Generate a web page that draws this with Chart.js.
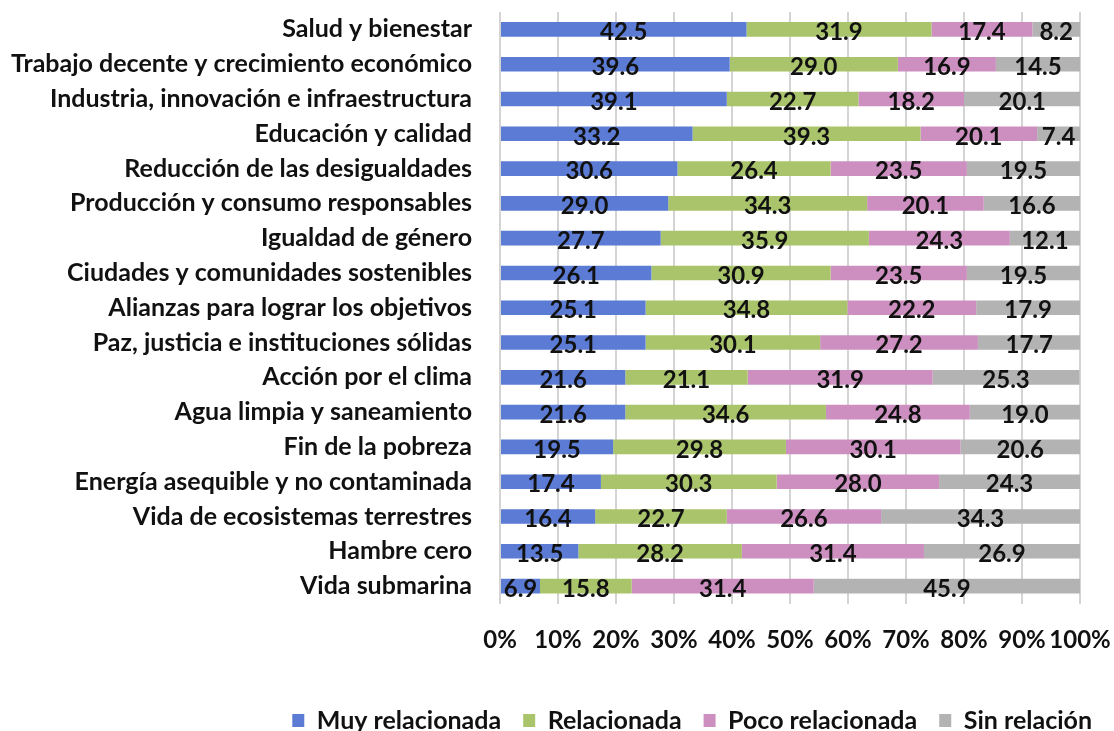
<!DOCTYPE html>
<html>
<head>
<meta charset="utf-8">
<script src="https://cdn.jsdelivr.net/npm/chart.js@4/dist/chart.umd.min.js"></script>
<style>
  html, body { margin: 0; padding: 0; background: #fff; overflow: hidden; }
  #contenedor { width: 1114px; height: 743px; }
</style>
</head>
<body>
<div id="contenedor"><canvas id="grafico"></canvas></div>
<script>
const categorias = [
  'Salud y bienestar',
  'Trabajo decente y crecimiento económico',
  'Industria, innovación e infraestructura',
  'Educación y calidad',
  'Reducción de las desigualdades',
  'Producción y consumo responsables',
  'Igualdad de género',
  'Ciudades y comunidades sostenibles',
  'Alianzas para lograr los objetivos',
  'Paz, justicia e instituciones sólidas',
  'Acción por el clima',
  'Agua limpia y saneamiento',
  'Fin de la pobreza',
  'Energía asequible y no contaminada',
  'Vida de ecosistemas terrestres',
  'Hambre cero',
  'Vida submarina'
];

const muyRelacionada = [42.5, 39.6, 39.1, 33.2, 30.6, 29.0, 27.7, 26.1, 25.1, 25.1, 21.6, 21.6, 19.5, 17.4, 16.4, 13.5, 6.9];
const relacionada    = [31.9, 29.0, 22.7, 39.3, 26.4, 34.3, 35.9, 30.9, 34.8, 30.1, 21.1, 34.6, 29.8, 30.3, 22.7, 28.2, 15.8];
const pocoRelacionada = [17.4, 16.9, 18.2, 20.1, 23.5, 20.1, 24.3, 23.5, 22.2, 27.2, 31.9, 24.8, 30.1, 28.0, 26.6, 31.4, 31.4];
const sinRelacion    = [8.2, 14.5, 20.1, 7.4, 19.5, 16.6, 12.1, 19.5, 17.9, 17.7, 25.3, 19.0, 20.6, 24.3, 34.3, 26.9, 45.9];

const fuente = 'Lato, "Open Sans", sans-serif';
const negro = '#111111';

// numeros dentro de cada tramo de la barra
const etiquetasValor = {
  id: 'etiquetasValor',
  afterDatasetsDraw(chart) {
    const ctx = chart.ctx;
    ctx.save();
    ctx.font = 'bold 24px ' + fuente;
    ctx.fillStyle = negro;
    ctx.textAlign = 'center';
    ctx.textBaseline = 'middle';
    chart.data.datasets.forEach((ds, i) => {
      chart.getDatasetMeta(i).data.forEach((barra, j) => {
        const x = (barra.x + barra.base) / 2;
        ctx.fillText(ds.data[j].toFixed(1), x, barra.y + 3);
      });
    });
    ctx.restore();
  }
};

const grafico = document.getElementById('grafico');

new Chart(grafico, {
  type: 'bar',
  data: {
    labels: categorias,
    datasets: [
      { label: 'Muy relacionada', data: muyRelacionada, backgroundColor: '#5b7bd4' },
      { label: 'Relacionada', data: relacionada, backgroundColor: '#a9c46b' },
      { label: 'Poco relacionada', data: pocoRelacionada, backgroundColor: '#cd8fc0' },
      { label: 'Sin relación', data: sinRelacion, backgroundColor: '#b3b3b3' }
    ]
  },
  options: {
    indexAxis: 'y',
    responsive: true,
    maintainAspectRatio: false,
    animation: false,
    datasets: {
      bar: { categoryPercentage: 1, barPercentage: 0.42 }
    },
    layout: { padding: { top: 12, right: 0, left: 0, bottom: 0 } },
    plugins: {
      tooltip: { enabled: false },
      legend: {
        position: 'bottom',
        align: 'end',
        labels: {
          boxWidth: 12,
          boxHeight: 13,
          padding: 22,
          color: negro,
          font: { family: fuente, size: 25, weight: 'bold' }
        }
      }
    },
    scales: {
      x: {
        stacked: true,
        min: 0,
        max: 100,
        border: { display: false },
        grid: { color: '#d4d4d4', lineWidth: 2, drawTicks: false },
        ticks: {
          stepSize: 10,
          padding: 22,
          maxRotation: 0,
          minRotation: 0,
          autoSkip: false,
          color: negro,
          font: { family: fuente, size: 24, weight: 'bold' },
          callback: v => v + '%'
        },
        afterFit: s => {
          s.height = 82.5;
          s.paddingLeft = 0;
          s.paddingRight = 34;
        }
      },
      y: {
        stacked: true,
        border: { display: false },
        grid: { display: false },
        ticks: {
          padding: 20,
          color: negro,
          font: { family: fuente, size: 25, weight: 'bold' }
        },
        afterFit: s => {
          s.width = 500;
          s.paddingTop = 0;
          s.paddingBottom = 0;
        }
      }
    }
  },
  plugins: [etiquetasValor]
});
</script>
</body>
</html>
